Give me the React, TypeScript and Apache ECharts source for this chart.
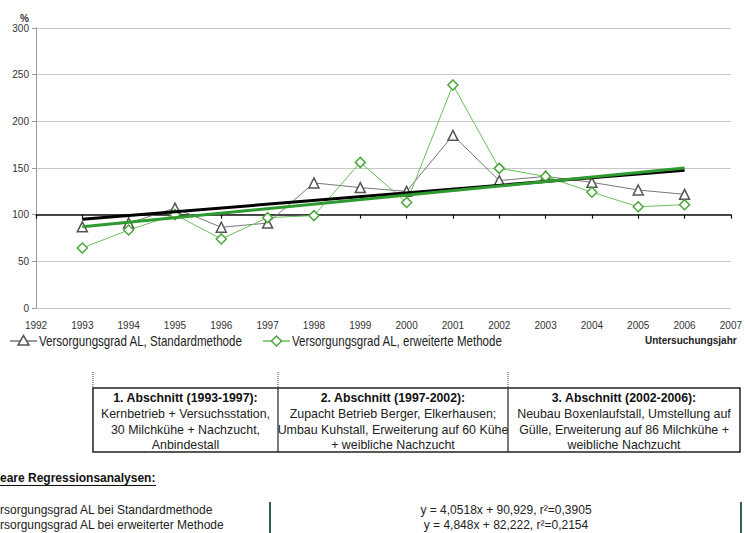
import React, { useEffect, useRef } from "react";
import * as echarts from "echarts";

const years = [1993, 1994, 1995, 1996, 1997, 1998, 1999, 2000, 2001, 2002, 2003, 2004, 2005, 2006];
const standard = [87, 91, 107, 86.5, 91, 134, 129, 125, 185, 136.5, 141, 134.6, 126.4, 121.8];
const erweitert = [64.3, 83.6, 100, 74, 96.8, 99, 156, 113, 239, 149.6, 141, 124, 108.5, 110.7];
const seriesNames = ["Versorgungsgrad AL, Standardmethode", "Versorgungsgrad AL, erweiterte Methode"];
const slopes = [4.0518, 4.848];
const intercepts = [90.929, 82.222];
const yTicks = { min: 0, max: 300, interval: 50 };
const xRange = { min: 1992, max: 2007, interval: 1 };

const sectionHeads = ["1. Abschnitt (1993-1997):", "2. Abschnitt (1997-2002):", "3. Abschnitt (2002-2006):"];
const sectionLines = [
  ["Kernbetrieb + Versuchsstation,", "30 Milchkühe + Nachzucht,", "Anbindestall"],
  ["Zupacht Betrieb Berger, Elkerhausen;", "Umbau Kuhstall, Erweiterung auf 60 Kühe", "+ weibliche Nachzucht"],
  ["Neubau Boxenlaufstall, Umstellung auf", "Gülle, Erweiterung auf 86 Milchkühe +", "weibliche Nachzucht"],
];
const regTitle = "eare Regressionsanalysen:";
const regLabels = ["rsorgungsgrad AL bei Standardmethode", "rsorgungsgrad AL bei erweiterter Methode"];
const regEquations = ["y = 4,0518x + 90,929, r²=0,3905", "y = 4,848x + 82,222, r²=0,2154"];

const FONT = "'Liberation Sans', Arial, sans-serif";
const GRAY_LINE = "#777";
const GRAY_MARK = "#555";
const GREEN_LINE = "#6cbf5c";
const GREEN_MARK = "#4aa83a";

export default function App() {
  const ref = useRef<HTMLDivElement>(null);
  useEffect(() => {
    if (!ref.current) return;
    const chart = echarts.init(ref.current, undefined, { renderer: "svg" });
    const trend = (i: number) => [
      [years[0], intercepts[i] + slopes[i] * (years[0] - 1992)],
      [years[years.length - 1], intercepts[i] + slopes[i] * (years[years.length - 1] - 1992)],
    ];
    const colX = [93, 278, 508, 740];
    const tableTop = 388;
    const tableBottom = 452;
    const graphics: any[] = [];
    graphics.push({ type: "text", x: 20, y: 18, style: { text: "%", font: "bold 10px " + FONT, fill: "#333", verticalAlign: "middle" } });
    graphics.push({ type: "text", x: 645, y: 340, style: { text: "Untersuchungsjahr", font: "bold 10px " + FONT, fill: "#222", verticalAlign: "middle" } });

    // legend
    const legY = 341;
    const legItems = [
      { x0: 10, mark: GRAY_MARK, shape: "tri" },
      { x0: 263, mark: GREEN_MARK, shape: "dia" },
    ];
    legItems.forEach((it, i) => {
      graphics.push({
        type: "line", shape: { x1: it.x0, y1: legY, x2: it.x0 + 27, y2: legY },
        style: { stroke: it.mark, lineWidth: 1.2 },
      });
      const cx = it.x0 + 13.5;
      const pts = it.shape === "tri"
        ? [[cx, legY - 5.5], [cx - 5.5, legY + 4], [cx + 5.5, legY + 4]]
        : [[cx, legY - 5], [cx + 5, legY], [cx, legY + 5], [cx - 5, legY]];
      graphics.push({
        type: "polygon", shape: { points: pts },
        style: { fill: "#fff", stroke: it.mark, lineWidth: 1.5 },
      });
      graphics.push({
        type: "text", x: it.x0 + 29, y: legY, scaleX: 0.825,
        style: { text: seriesNames[i], font: "14px " + FONT, fill: "#222", verticalAlign: "middle" },
      });
    });

    graphics.push({
      type: "rect",
      shape: { x: colX[0], y: tableTop, width: colX[3] - colX[0], height: tableBottom - tableTop },
      style: { fill: "none", stroke: "#222", lineWidth: 1.5 },
    });
    for (let c = 0; c < 3; c++) {
      graphics.push({
        type: "line",
        shape: { x1: colX[c], y1: 372, x2: colX[c], y2: tableTop },
        style: { stroke: "#444", lineWidth: 1, lineDash: [1, 1] },
      });
      if (c > 0) {
        graphics.push({
          type: "line",
          shape: { x1: colX[c], y1: tableTop, x2: colX[c], y2: tableBottom },
          style: { stroke: "#222", lineWidth: 1.2 },
        });
      }
      const cx = (colX[c] + colX[c + 1]) / 2;
      graphics.push({
        type: "text", x: cx, y: 398,
        style: { text: sectionHeads[c], font: "bold 12.3px " + FONT, fill: "#111", align: "center", verticalAlign: "middle" },
      });
      sectionLines[c].forEach((t, k) => {
        graphics.push({
          type: "text", x: cx, y: 414 + k * 15.5,
          style: { text: t, font: "12.4px " + FONT, fill: "#222", align: "center", verticalAlign: "middle" },
        });
      });
    }
    graphics.push({
      type: "text", x: 0, y: 478,
      style: { text: regTitle, font: "bold 12px " + FONT, fill: "#111", verticalAlign: "middle" },
    });
    graphics.push({
      type: "line", shape: { x1: 0, y1: 485.5, x2: 156, y2: 485.5 }, style: { stroke: "#111", lineWidth: 1 },
    });
    regLabels.forEach((t, k) => {
      graphics.push({
        type: "text", x: 0, y: 509.5 + k * 15,
        style: { text: t, font: "12px " + FONT, fill: "#222", verticalAlign: "middle" },
      });
      graphics.push({
        type: "text", x: 506, y: 509.5 + k * 15,
        style: { text: regEquations[k], font: "12px " + FONT, fill: "#222", align: "center", verticalAlign: "middle" },
      });
    });
    [270, 741].forEach((x) => {
      graphics.push({
        type: "line", shape: { x1: x, y1: 502, x2: x, y2: 533 }, style: { stroke: "#2f5f5a", lineWidth: 2 },
      });
    });

    chart.setOption({
      animation: false,
      textStyle: { fontFamily: FONT },
      grid: { left: 36, right: 8, top: 28, bottom: 225, containLabel: false },
      xAxis: [
        {
          type: "value",
          min: xRange.min,
          max: xRange.max,
          interval: xRange.interval,
          axisLine: { show: false },
          axisTick: { show: false },
          splitLine: { show: false },
          axisLabel: { fontSize: 10, color: "#333", margin: 12, fontFamily: FONT, formatter: (v: number) => String(v) },
        },
        {
          type: "value",
          position: "bottom",
          min: xRange.min,
          max: xRange.max,
          interval: xRange.interval,
          axisLine: { show: true, onZero: true, onZeroAxisIndex: 1, lineStyle: { color: "#111", width: 1.5 } },
          axisTick: { show: true, inside: false, length: 4, lineStyle: { color: "#111", width: 1.2 } },
          splitLine: { show: false },
          axisLabel: { show: false },
        },
      ],
      yAxis: [
        {
          type: "value",
          min: yTicks.min,
          max: yTicks.max,
          interval: yTicks.interval,
          axisLine: { show: true, lineStyle: { color: "#999" } },
          axisTick: { show: true, length: 4, lineStyle: { color: "#999" } },
          splitLine: { show: true, lineStyle: { color: "#c8c8c8", width: 1 } },
          axisLabel: { fontSize: 10, color: "#333", margin: 7, fontFamily: FONT },
        },
        {
          type: "value",
          min: -100,
          max: 200,
          show: false,
          splitLine: { show: false },
        },
      ],
      series: [
        {
          name: seriesNames[0],
          type: "line",
          data: years.map((y, i) => [y, standard[i]]),
          symbol: "triangle",
          symbolSize: 10,
          lineStyle: { color: GRAY_LINE, width: 1 },
          itemStyle: { color: "#fff", borderColor: GRAY_MARK, borderWidth: 1.5 },
          z: 3,
        },
        {
          name: seriesNames[1],
          type: "line",
          data: years.map((y, i) => [y, erweitert[i]]),
          symbol: "diamond",
          symbolSize: 10,
          lineStyle: { color: GREEN_LINE, width: 1 },
          itemStyle: { color: "#fff", borderColor: GREEN_MARK, borderWidth: 1.5 },
          z: 3,
        },
        {
          name: "trend1",
          type: "line",
          data: trend(0),
          symbol: "none",
          lineStyle: { color: "#000", width: 3 },
          z: 4,
        },
        {
          name: "trend2",
          type: "line",
          data: trend(1),
          symbol: "none",
          lineStyle: { color: "#2f9a2f", width: 3 },
          z: 4,
        },
      ],
      graphic: graphics,
    });
    return () => chart.dispose();
  }, []);
  return <div ref={ref} style={{ width: 745, height: 533, position: "absolute", left: 0, top: 0 }} />;
}
